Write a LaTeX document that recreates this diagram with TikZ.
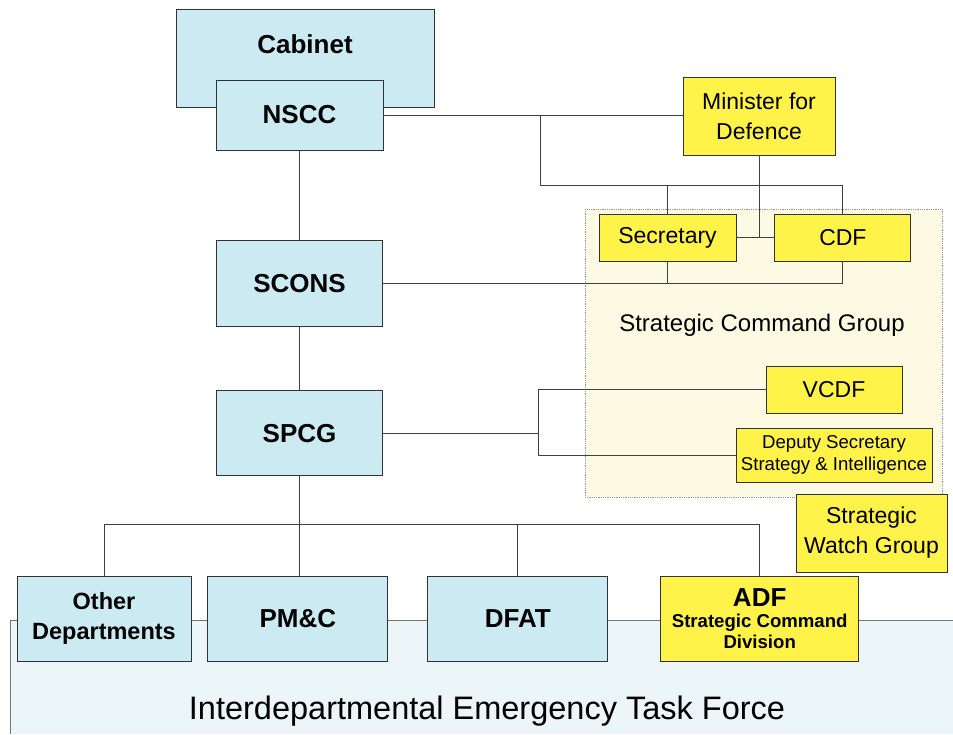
\documentclass[tikz,border=0pt]{standalone}
\usepackage{fontspec}
\setmainfont{Liberation Sans}
\usepackage{tikz}
\usetikzlibrary{positioning}
\definecolor{boxblue}{RGB}{204,234,242}
\definecolor{boxyellow}{RGB}{255,242,72}
\definecolor{scgfill}{RGB}{252,250,226}
\definecolor{ietffill}{RGB}{236,245,247}
\tikzstyle{bluebox} = [rectangle, inner sep=0pt, align=center, draw=black!80, line width=0.9pt, fill=boxblue, font=\bfseries\fontsize{26}{30}\selectfont]
\tikzstyle{yellowbox} = [rectangle, inner sep=0pt, align=center, draw=black!80, line width=0.9pt, fill=boxyellow, font=\fontsize{23}{30}\selectfont]
\tikzstyle{link} = [draw=black!75, line width=1pt]
\begin{document}
\begin{tikzpicture}[x=1pt, y=-1pt]
			\useasboundingbox (0,0) rectangle (953,734);
			\fill [ietffill] (10,620) rectangle (953,734);
			\draw [draw=black!55, line width=0.8pt] (953,620) -- (10,620) -- (10,734);
			\node (ietflabel) at (487,711) {\fontsize{32.5}{36}\selectfont Interdepartmental Emergency Task Force};
			\fill [scgfill] (585,209) rectangle (942,497);
			\draw [draw=black!40, densely dotted, line width=0.8pt] (585,209) rectangle (942,497);
			\node (scglabel) at (762,325) {\fontsize{24}{28}\selectfont Strategic Command Group};
			
			\node (cabinet) [bluebox, minimum width=258pt, minimum height=98pt, text height=20pt, text depth=30pt] at (305,58) {Cabinet};
			\node (nscc) [bluebox, minimum width=167pt, minimum height=70pt] at (299.5,115) {NSCC};
			\node (scons) [bluebox, minimum width=166pt, minimum height=86pt, below=90pt of nscc] {SCONS};
			\node (spcg) [bluebox, minimum width=166pt, minimum height=85pt, below=63pt of scons] {SPCG};
			\node (minister) [yellowbox, minimum width=152pt, minimum height=78pt] at (759,116) {Minister for\\Defence};
			\node (secretary) [yellowbox, minimum width=137pt, minimum height=47pt] at (667.5,237.5) {Secretary};
			\node (cdf) [yellowbox, minimum width=136pt, minimum height=47pt, right=38pt of secretary] {CDF};
			\node (vcdf) [yellowbox, minimum width=136pt, minimum height=47pt] at (834,389.5) {VCDF};
			\node (deputy) [yellowbox, minimum width=196pt, minimum height=54pt, font=\fontsize{18.6}{22}\selectfont] at (834,455) {Deputy Secretary\\Strategy \& Intelligence};
			\node (watch) [yellowbox, minimum width=151pt, minimum height=78pt] at (871.5,533) {Strategic\\Watch Group};
			\node (other) [bluebox, minimum width=174pt, minimum height=85pt, font=\bfseries\fontsize{23.5}{30}\selectfont] at (104,618.5) {Other\\Departments};
			\node (pmc) [bluebox, minimum width=180pt, minimum height=85pt, right=16pt of other] {PM\&C};
			\node (dfat) [bluebox, minimum width=180pt, minimum height=85pt, right=39pt of pmc] {DFAT};
			\node (adf) [yellowbox, minimum width=198pt, minimum height=85pt, font=\bfseries\fontsize{18.6}{21}\selectfont, right=52pt of dfat] {{\fontsize{26}{26}\selectfont ADF}\\Strategic Command\\Division};
			
			\coordinate (mdsplit) at (540,115);
			\coordinate (spsplit) at ([xshift=156pt]spcg.east);
			\draw [link] (nscc.east) -- (nscc.east -| minister.west);
			\draw [link] (mdsplit) |- ([yshift=28pt]cdf.north) -- (cdf.north);
			\draw [link] ([yshift=28pt]secretary.north) -- (secretary.north);
			\draw [link] (minister.south) -- (minister.south |- secretary.east);
			\draw [link] (secretary.east) -- (cdf.west);
			\draw [link] (nscc.south) -- (scons.north);
			\draw [link] (scons.east) -- (scons.east -| cdf.south);
			\draw [link] (secretary.south) -- (secretary.south |- scons.east);
			\draw [link] (cdf.south) -- (cdf.south |- scons.east);
			\draw [link] (scons.south) -- (spcg.north);
			\draw [link] (spcg.east) -- (spsplit);
			\draw [link] (vcdf.west) -| (spsplit) |- (deputy.west);
			\draw [link] (spcg.south) -- (spcg.south |- pmc.north);
			\draw [link] (other.north) -- ++(0pt,51pt) -| (adf.north);
			\draw [link] (dfat.north) -- ++(0pt,51pt);
			\end{tikzpicture}
\end{document}
